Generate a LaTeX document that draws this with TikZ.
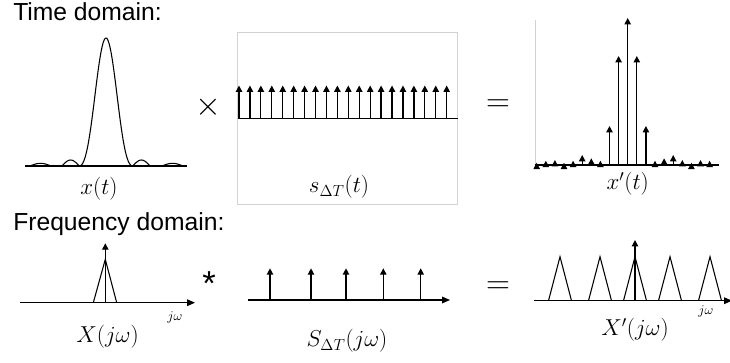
\documentclass[tikz,border=0pt]{standalone}
\usepackage[no-math]{fontspec}
\setmainfont{Liberation Sans}
\usepackage{amsmath}
\usepackage{tikz}
\usetikzlibrary{arrows.meta}

\tikzset{
  impulse/.style={line width=0.95pt,-{Triangle[width=4.8pt,length=4.8pt]}},
  axisline/.style={line width=0.9pt},
  freqaxis/.style={line width=0.9pt,-{Triangle[width=5pt,length=6pt]}},
  lobe/.style={line width=0.8pt},
  heading/.style={anchor=base west,inner sep=0pt,font=\fontsize{18.5}{22}\selectfont},
  caption/.style={font=\fontsize{17}{20}\selectfont},
  axislabel/.style={font=\fontsize{10}{12}\selectfont},
  opsign/.style={font=\fontsize{34}{40}\selectfont}
}

\begin{document}
\begin{tikzpicture}[x=0.75pt,y=-0.75pt]
  \useasboundingbox (0,0) rectangle (730,362);
  \node[heading] (timeHead) at (13,20.7) {Time domain:};
  \node[heading] (freqHead) at (13,230) {Frequency domain:};

  \draw[axisline] (25,166)--(187,166);
  \draw[lobe,domain=-1:1,samples=60] plot ({106+26.8*\x},{166-128*(sin(180*\x)/(pi*\x))^2});
  \foreach \a/\b/\h in {30/51/2.7,62/79.2/6,132.8/150/6,162/183/2.7}
    \draw[lobe,domain=0:1,samples=15] plot ({\a+(\b-\a)*\x},{166-\h*sin(180*\x)});
  \node[caption] (xLabel) at (99,189) {$x(t)$};
  \node[font=\fontsize{26}{30}\selectfont] (timesSign) at (208.5,107) {$\times$};

  \draw[gray!35] (237.5,32) rectangle (457.5,204.5);
  \draw[axisline] (237.5,118.3)--(457.5,118.3);
  \foreach \i in {0,...,19}
    \draw[impulse] (239+10.93*\i,118.3)--(239+10.93*\i,85.5);
  \node[caption] (sLabel) at (339,187) {$s_{\Delta T}(t)$};
  \node[opsign] (eqTime) at (498,106) {$=$};

  \draw[gray!35] (535,20)--(535,165);
  \draw[axisline] (535,165)--(719,165);
  \foreach \k/\h in {-10/2.3,-9/4.3,-8/5,-7/2.3,-6/4.3,-5/10,-4/6.7,-3/4.3,-2/39,-1/109,
                     0/147,1/109,2/39,3/4.3,4/6.7,5/10,6/5,7/2.3,8/5,9/4.3}
    \draw[impulse] (627.7+9.1*\k,165)--++(0,-\h);
  \node[caption] (xsLabel) at (627.7,184) {$x'(t)$};

  \draw[freqaxis] (20,302.7)--(195,302.7);
  \draw[lobe] (93.3,302.7)--(105.3,259.3)--(116.7,302.7);
  \draw[impulse] (105.3,302.7)--(105.3,243.3);
  \node[axislabel] (wLabelA) at (175,317) {$j\omega$};
  \node[caption] (XLabel) at (107.5,337) {$X(j\omega)$};
  \node[font=\fontsize{26}{30}\selectfont] (convSign) at (209,284) {*};

  \draw[freqaxis] (248.3,300)--(450,300);
  \foreach \x in {270,311,346,383.3,420.7}
    \draw[impulse] (\x,300)--(\x,268.3);
  \node[caption] (SLabel) at (347,341) {$S_{\Delta T}(j\omega)$};
  \node[opsign] (eqFreq) at (498,288) {$=$};

  \draw[freqaxis] (534.3,300.7)--(732,300.7);
  \foreach \x in {560,600,635,670,710}
    \draw[lobe] (\x-11.5,300.7)--(\x,256.7)--(\x+11.5,300.7);
  \draw[impulse] (635,300.7)--(635,240);
  \node[axislabel] (wLabelB) at (706,311.7) {$j\omega$};
  \node[caption] (XsLabel) at (635,330) {$X'(j\omega)$};
\end{tikzpicture}
\end{document}
